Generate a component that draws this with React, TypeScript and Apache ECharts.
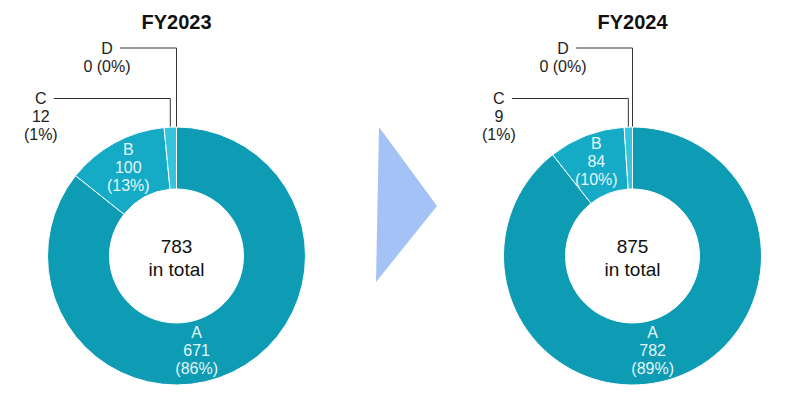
import React, { useEffect, useRef } from "react";
import * as echarts from "echarts";

const categories = ["A", "B", "C", "D"];
const years = ["FY2023", "FY2024"];
const values2023 = [671, 100, 12, 0];
const values2024 = [782, 84, 9, 0];
const colors = ["#0e9bb4", "#15aac5", "#36c3dc", "#6dd6ea"];

const FONT = "'Liberation Sans', Arial, Helvetica, sans-serif";
const centers: [number, number][] = [
  [176.5, 256],
  [632.5, 256],
];
const radii: [number, number] = [67, 129];

function midPoint(vals: number[], idx: number, cx: number, cy: number, r: number) {
  const total = vals.reduce((a, b) => a + b, 0);
  let before = 0;
  for (let i = 0; i < idx; i++) before += vals[i];
  const frac = (before + vals[idx] / 2) / total;
  const th = frac * Math.PI * 2;
  return [cx + r * Math.sin(th), cy - r * Math.cos(th)];
}

export default function App() {
  const ref = useRef<HTMLDivElement>(null);
  useEffect(() => {
    if (!ref.current) return;
    const chart = echarts.init(ref.current, null, { renderer: "svg" });
    const allVals = [values2023, values2024];

    const makeSeries = (vals: number[], si: number) => ({
      type: "pie",
      center: centers[si],
      radius: radii,
      startAngle: 90,
      clockwise: true,
      avoidLabelOverlap: false,
      percentPrecision: 0,
      silent: true,
      itemStyle: { borderColor: "#ffffff", borderWidth: 1 },
      data: vals.map((v, i) => {
        const outside = i >= 2;
        return {
          name: categories[i],
          value: v,
          itemStyle: { color: colors[i] },
          label: {
            show: true,
            position: outside ? "outside" : "inside",
            formatter: v === 0 ? "{b}\n{c} ({d}%)" : "{b}\n{c}\n({d}%)",
            color: outside ? "#222222" : "#e4f6fa",
            fontSize: 16,
            lineHeight: 18,
            fontFamily: FONT,
            align: "center",
          },
          labelLine: {
            show: outside,
            lineStyle: { color: "#333333", width: 1 },
          },
        };
      }),
      labelLayout: (params: any) => {
        const idx = params.dataIndex;
        const [cx, cy] = centers[si];
        if (idx === 0) {
          const th = (168 * Math.PI) / 180;
          const r = 97;
          return {
            x: cx + r * Math.sin(th),
            y: cy - r * Math.cos(th),
            align: "center",
            verticalAlign: "middle",
          };
        }
        if (idx >= 2) {
          let pt: number[];
          if (params.labelLinePoints && params.labelLinePoints[0]) {
            pt = params.labelLinePoints[0];
          } else {
            pt = midPoint(vals, idx, cx, cy, radii[1]);
          }
          const [sx, sy] = pt;
          const lineY = idx === 3 ? 48 : 98.5;
          const lx = idx === 3 ? sx - 69.5 : sx - 129.5;
          const top = lineY - 9;
          return {
            x: lx,
            y: top,
            align: "center",
            verticalAlign: "top",
            labelLinePoints: [
              [sx, sy],
              [sx, lineY],
              [lx + 13, lineY],
            ],
          };
        }
        return {};
      },
    });

    const graphics: any[] = [];
    years.forEach((y, si) => {
      const [cx, cy] = centers[si];
      const total = allVals[si].reduce((a, b) => a + b, 0);
      graphics.push({
        type: "text",
        x: cx,
        y: 22,
        style: {
          text: y,
          textAlign: "center",
          textVerticalAlign: "middle",
          fontSize: 20,
          fontWeight: "bold",
          fontFamily: FONT,
          fill: "#111111",
        },
      });
      graphics.push({
        type: "text",
        x: cx,
        y: cy + 2,
        style: {
          text: `${total}\nin total`,
          textAlign: "center",
          textVerticalAlign: "middle",
          fontSize: 19,
          lineHeight: 23,
          fontFamily: FONT,
          fill: "#111111",
        },
      });
    });
    graphics.push({
      type: "polygon",
      shape: {
        points: [
          [379, 127],
          [437, 206],
          [376, 282],
        ],
      },
      style: { fill: "#a4c2f5" },
    });

    chart.setOption({
      animation: false,
      backgroundColor: "#ffffff",
      series: allVals.map((v, i) => makeSeries(v, i)),
      graphic: graphics,
    });
    return () => chart.dispose();
  }, []);

  return (
    <div
      ref={ref}
      style={{ position: "fixed", left: 0, top: 0, width: 800, height: 400 }}
    />
  );
}
